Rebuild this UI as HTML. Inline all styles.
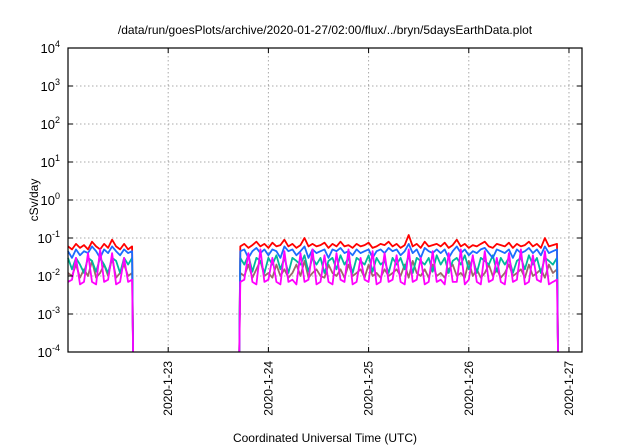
<!DOCTYPE html>
<html><head><meta charset="utf-8"><style>
body{margin:0;background:#fff;}
svg{display:block;font-family:"Liberation Sans",sans-serif;}
</style></head><body>
<svg id="chart" width="640" height="448">
<text x="325" y="34" font-size="12" text-anchor="middle">/data/run/goesPlots/archive/2020-01-27/02:00/flux/../bryn/5daysEarthData.plot</text>
<text transform="translate(38,200) rotate(-90)" font-size="12" text-anchor="middle">cSv/day</text>
<text x="325" y="442" font-size="12" text-anchor="middle">Coordinated Universal Time (UTC)</text>
<g id="grid"></g><g id="series"></g><g id="axes"></g>
</svg>
<script>
const seg1Start=22.00,seg2Start=23.72,step=0.04,seg1Count=17,seg2Count=80;
const redVals=[.06,.05,.07,.055,.065,.05,.08,.06,.05,.07,.055,.09,.06,.05,.07,.05,.06,0.0001,0.0001,
.06,.07,.055,.065,.08,.06,.07,.055,.075,.06,
.065,.09,.06,.07,.055,.065,.1,.06,.07,.06,
.065,.075,.055,.07,.06,.08,.06,.065,.055,.07,
.06,.065,.075,.055,.06,.07,.065,.08,.06,.07,
.055,.065,.12,.06,.07,.055,.08,.06,.065,.07,
.06,.075,.055,.065,.09,.06,.07,.055,.065,.06,
.07,.08,.06,.055,.07,.065,.06,.075,.055,.07,
.06,.065,.08,.06,.07,.055,.1,.06,.065,.07,0.0001];
const blueVals=[.045,.03,.05,.035,.045,.04,.06,.045,.03,.05,.04,.06,.045,.035,.05,.04,.045,0.0001,0.0001,
.045,.05,.03,.045,.055,.04,.05,.035,.05,.045,
.03,.06,.045,.05,.035,.045,.06,.03,.05,.04,
.045,.05,.03,.05,.045,.055,.04,.045,.035,.05,
.04,.045,.05,.03,.045,.05,.04,.055,.045,.05,
.035,.045,.07,.04,.05,.03,.055,.045,.04,.05,
.04,.05,.03,.045,.06,.04,.05,.035,.045,.04,
.05,.055,.04,.03,.05,.045,.04,.05,.03,.05,
.04,.045,.055,.04,.05,.035,.06,.04,.045,.05,0.0001];
const tealVals=[.03,.015,.03,.02,.012,.03,.025,.013,.03,.02,.012,.03,.025,.012,.03,.02,.03,0.0001,0.0001,
.03,.02,.035,.013,.03,.025,.012,.03,.02,.035,
.015,.03,.012,.03,.025,.02,.035,.013,.03,.02,
.03,.012,.025,.03,.015,.035,.02,.03,.012,.03,
.025,.02,.035,.013,.03,.02,.025,.012,.03,.02,
.03,.015,.035,.012,.03,.025,.02,.03,.013,.035,
.02,.03,.012,.025,.03,.02,.035,.015,.03,.012,
.03,.025,.02,.035,.013,.03,.02,.03,.012,.025,
.03,.015,.035,.02,.03,.012,.03,.025,.02,.03,0.0001];
const brownVals=[.012,.01,.02,.009,.015,.01,.025,.009,.012,.02,.01,.03,.009,.012,.02,.01,.012,0.0001,0.0001,
.012,.01,.02,.009,.015,.025,.01,.012,.009,.02,
.01,.015,.009,.012,.02,.01,.025,.009,.012,.015,
.01,.009,.02,.012,.01,.015,.009,.02,.01,.012,
.015,.009,.02,.01,.012,.009,.015,.01,.012,.015,
.01,.02,.009,.025,.012,.01,.015,.009,.02,.01,
.012,.009,.015,.02,.01,.012,.009,.025,.01,.015,
.009,.012,.02,.01,.015,.009,.012,.02,.01,.012,
.015,.009,.02,.01,.012,.015,.009,.02,.012,.015,0.0001];
const magentaVals=[.007,.008,.03,.006,.007,.04,.007,.006,.05,.007,.008,.04,.006,.007,.03,.007,.008,0.0001,0.0001,
.007,.008,.04,.007,.006,.05,.007,.008,.03,.007,
.006,.045,.007,.008,.006,.04,.007,.008,.05,.006,
.007,.035,.007,.006,.04,.008,.007,.05,.006,.007,
.03,.008,.007,.045,.006,.007,.04,.007,.008,.035,
.007,.006,.05,.007,.008,.03,.006,.007,.045,.007,
.008,.006,.04,.007,.007,.05,.006,.008,.035,.007,
.006,.045,.007,.008,.03,.007,.006,.04,.007,.008,
.05,.006,.007,.035,.008,.007,.045,.006,.007,.008,0.0001];
const yTickExps=[4,3,2,1,0,-1,-2,-3,-4];
const xTickDays=[23,24,25,26,27];
const xTickLabels=["2020-1-23","2020-1-24","2020-1-25","2020-1-26","2020-1-27"];

const times=[];
for(let i=0;i<seg1Count;i++)times.push(seg1Start+i*step);
times.push(seg1Start+(seg1Count-1)*step+0.01);
times.push(seg2Start-0.01);
for(let i=0;i<seg2Count;i++)times.push(seg2Start+i*step);
times.push(seg2Start+(seg2Count-1)*step+0.01);

const L=68,R=582,T=48,B=352,xMin=22.0,xMax=27.13,yMinE=-4,yMaxE=4;
const NS="http://www.w3.org/2000/svg";
const xS=d=>L+(d-xMin)/(xMax-xMin)*(R-L);
const yS=v=>{let e=Math.log10(Math.max(v,1e-4));return B-(e-yMinE)/(yMaxE-yMinE)*(B-T);};
function mk(tag,attrs,parent){const e=document.createElementNS(NS,tag);for(const k in attrs)e.setAttribute(k,attrs[k]);parent.appendChild(e);return e;}
const grid=document.getElementById('grid'),ser=document.getElementById('series'),ax=document.getElementById('axes');
yTickExps.forEach(e=>{const y=B-(e-yMinE)/(yMaxE-yMinE)*(B-T);
 if(e>yMinE&&e<yMaxE){const g=mk('line',{x1:L,x2:R,y1:y,y2:y,stroke:'#aaa','stroke-dasharray':'1.5,2.5'},grid);
 
 }
 const t=mk('text',{x:L-8,y:y+5,'font-size':13,'text-anchor':'end'},ax);
 
 
 t.innerHTML='10<tspan dy="-6" font-size="9">'+e+'</tspan>';
 mk('line',{x1:L,x2:L+5,y1:y,y2:y,stroke:'#000'},ax);mk('line',{x1:R,x2:R-5,y1:y,y2:y,stroke:'#000'},ax);
});
xTickDays.forEach((d,i)=>{const x=xS(d);
 const g=mk('line',{x1:x,x2:x,y1:T,y2:B,stroke:'#aaa','stroke-dasharray':'1.5,2.5'},grid);
 
 
 mk('line',{x1:x,x2:x,y1:B,y2:B-5,stroke:'#000'},ax);mk('line',{x1:x,x2:x,y1:T,y2:T+5,stroke:'#000'},ax);
 const t=mk('text',{transform:`translate(${x+4},${B+9}) rotate(-90)`,'font-size':12,'text-anchor':'end'},ax);
 
 
 t.textContent=xTickLabels[i];
});
const frame=mk('rect',{x:L,y:T,width:R-L,height:B-T,fill:'none',stroke:'#000','stroke-width':1.2},ax);


const series=[['red-series',redVals,'#ff0000'],['brown-series',brownVals,'#9a6a6a'],['teal-series',tealVals,'#00b89c'],['blue-series',blueVals,'#1c6cff'],['magenta-series',magentaVals,'#ff00ff']];
series.forEach(([name,vals,col])=>{let d='';
 for(let i=0;i<times.length&&i<vals.length;i++){
  const bothLow=i>0&&vals[i]<=1e-4&&vals[i-1]<=1e-4;
  d+=((i===0||bothLow)?'M':'L')+xS(times[i]).toFixed(1)+','+yS(vals[i]).toFixed(1);}
 const p=mk('path',{d:d,fill:'none',stroke:col,'stroke-width':1.8,'stroke-linejoin':'round'},ser);
 
 
});
</script>
</body></html>
